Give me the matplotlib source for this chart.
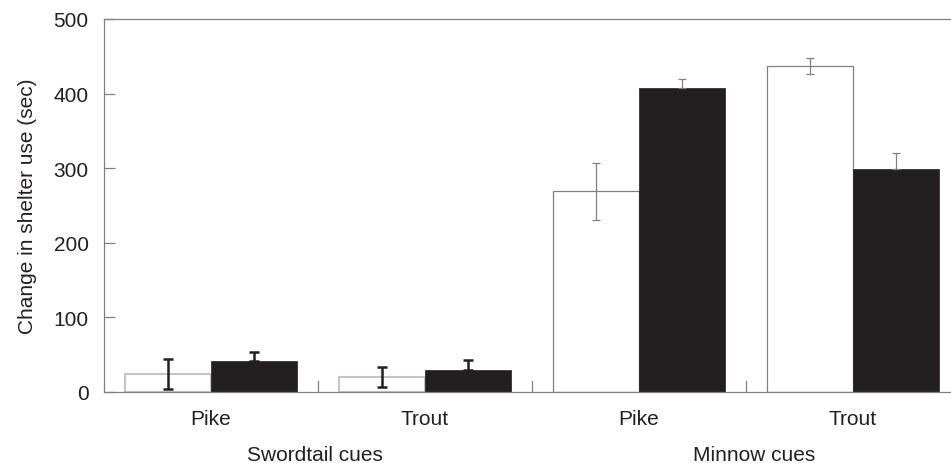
import matplotlib
matplotlib.use("Agg")
import matplotlib.pyplot as plt
import numpy as np

plt.rcParams['font.family'] = ['Liberation Sans', 'DejaVu Sans']

predators = ["Pike", "Trout", "Pike", "Trout"]
cue_groups = ["Swordtail cues", "Minnow cues"]
white_vals = [24, 20, 269, 437]
white_err = [20, 13, 38, 11]
black_vals = [42, 29, 407, 299]
black_err = [12, 14, 13, 22]
yticks = [0, 100, 200, 300, 400, 500]

fs = 15
fig = plt.figure(figsize=(9.51, 4.64), dpi=100)
ax = fig.add_axes([104/951, 1-393/464, 1-104/951, (393-20)/464])

x = np.arange(len(predators))
w = 0.4
gray = "#808080"
dark = "#231f20"

for i in range(len(predators)):
    sword = i < 2
    ec = "#c4c4c4" if sword else gray
    lw = 1.5 if sword else 0.9
    ax.bar(x[i] - w/2, white_vals[i], width=w, facecolor="white", edgecolor=ec, linewidth=lw, zorder=2)
    ax.bar(x[i] + w/2, black_vals[i], width=w, facecolor=dark, edgecolor=dark, linewidth=0.5, zorder=2)
    if sword:
        kw = dict(fmt='none', ecolor=dark, elinewidth=1.8, capsize=3.6, capthick=1.8, zorder=3)
    else:
        kw = dict(fmt='none', ecolor=gray, elinewidth=0.9, capsize=3.2, capthick=0.9, zorder=3)
    ax.errorbar(x[i] - w/2, white_vals[i], yerr=white_err[i], **kw)
    ax.errorbar(x[i] + w/2, black_vals[i], yerr=[[0], [black_err[i]]], **kw)

# group separators
for s in [0.5, 1.5, 2.5]:
    ax.plot([s, s], [0, 15], color=gray, linewidth=0.9, zorder=1)

ax.set_xlim(-0.5, 3.458)
ax.set_ylim(0, 500)
ax.set_yticks(yticks)
ax.set_yticklabels([str(t) for t in yticks], fontsize=fs, color=dark)
ax.tick_params(axis='y', direction='in', length=8, width=0.9, color=gray, pad=11)
ax.set_xticks(x)
ax.set_xticklabels(predators, fontsize=fs, color=dark)
ax.tick_params(axis='x', length=0, pad=12)
ax.set_ylabel("Change in shelter use (sec)", fontsize=fs, color=dark, labelpad=12)

for side in ['left', 'bottom', 'top']:
    ax.spines[side].set_color(gray)
    ax.spines[side].set_linewidth(0.9)
ax.spines['right'].set_visible(False)

ax.text(0.486, -0.168, cue_groups[0], transform=ax.get_xaxis_transform(), ha='center', va='center',
        fontsize=fs, color=dark)
ax.text(2.54, -0.168, cue_groups[1], transform=ax.get_xaxis_transform(), ha='center', va='center',
        fontsize=fs, color=dark)

fig.savefig("out.png", dpi=100)
